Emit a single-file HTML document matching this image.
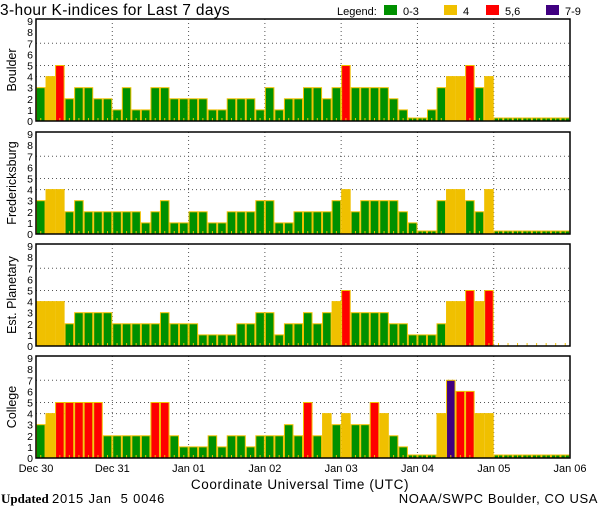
<!DOCTYPE html>
<html><head><meta charset="utf-8"><style>
html,body{margin:0;padding:0;background:#fff;}
svg{display:block;font-family:"Liberation Sans",sans-serif;}
</style></head><body>
<svg id="s" width="600" height="510" xmlns="http://www.w3.org/2000/svg">
<rect width="600" height="510" fill="#fff"/>
<text x="0" y="15" font-size="15.5" letter-spacing="0.35" fill="#000">3-hour K-indices for Last 7 days</text>
<text x="337" y="15" font-size="11" fill="#000">Legend:</text>
<rect x="384" y="5" width="13" height="10" fill="#009000"/>
<text x="403" y="15" font-size="11">0-3</text>
<rect x="444" y="5" width="13" height="10" fill="#f0c000"/>
<text x="463" y="15" font-size="11">4</text>
<rect x="486" y="5" width="13" height="10" fill="#ff0000"/>
<text x="505" y="15" font-size="11">5,6</text>
<rect x="546" y="5" width="13" height="10" fill="#400080"/>
<text x="565" y="15" font-size="11">7-9</text>
<g id="panels"></g>
<g font-size="12.5" transform="rotate(-90)">
<text x="-70" y="16" text-anchor="middle">Boulder</text>
<text x="-183" y="16" text-anchor="middle">Fredericksburg</text>
<text x="-295" y="16" text-anchor="middle">Est. Planetary</text>
<text x="-407" y="16" text-anchor="middle">College</text>
</g>
<g font-size="11" text-anchor="middle">
<text x="36" y="472">Dec 30</text>
<text x="112.3" y="472">Dec 31</text>
<text x="188.6" y="472">Jan 01</text>
<text x="264.9" y="472">Jan 02</text>
<text x="341.2" y="472">Jan 03</text>
<text x="417.5" y="472">Jan 04</text>
<text x="493.8" y="472">Jan 05</text>
<text x="570" y="472">Jan 06</text>
</g>
<text x="300" y="489" font-size="13.5" letter-spacing="0.6" text-anchor="middle">Coordinate Universal Time (UTC)</text>
<text x="1" y="503" font-size="13" font-family="Liberation Serif" font-weight="bold" xml:space="preserve">Updated <tspan font-family="Liberation Sans" font-weight="normal" letter-spacing="0.8">2015 Jan  5 0046</tspan></text>
<text x="598" y="503" font-size="13" letter-spacing="0.6" text-anchor="end">NOAA/SWPC Boulder, CO USA</text>
</svg>
<script>
var Z=[0,0,0,0,0,0,0,0];
var data=[
[3,4,5,2,3,3,2,2, 1,3,1,1,3,3,2,2, 2,2,1,1,2,2,2,1, 3,1,2,2,3,3,2,3, 5,3,3,3,3,2,1,0, 0,1,3,4,4,5,3,4].concat(Z),
[3,4,4,2,3,2,2,2, 2,2,2,1,2,3,1,1, 2,2,1,1,2,2,2,3, 3,1,1,2,2,2,2,3, 4,2,3,3,3,3,2,1, 0,0,3,4,4,3,2,4].concat(Z),
[4,4,4,2,3,3,3,3, 2,2,2,2,2,3,2,2, 2,1,1,1,1,2,2,3, 3,1,2,2,3,2,3,4, 5,3,3,3,3,2,2,1, 1,1,2,4,4,5,4,5],
[3,4,5,5,5,5,5,2, 2,2,2,2,5,5,2,1, 1,1,2,1,2,2,1,2, 2,2,3,2,5,2,4,3, 4,3,3,5,4,2,1,0, 0,0,4,7,6,6,4,4].concat(Z)
];
var tops=[19,132,244,356];
var h='';var bw=(570-36)/56;var u=11.1;
function col(v){return v<=3?'#009000':v==4?'#f0c000':v<=6?'#ff0000':'#400080';}
for(var p=0;p<4;p++){
 var T=tops[p],B=T+102;
 [4,5,7].forEach(function(v){var y=B-v*u;h+='<line x1="36" x2="570" y1="'+y+'" y2="'+y+'" stroke="#555" stroke-dasharray="1,3"/>';});
 for(var d=1;d<7;d++){var x=36+d*76.29;h+='<line x1="'+x+'" x2="'+x+'" y1="'+T+'" y2="'+B+'" stroke="#555" stroke-dasharray="1,3"/>';}
 var dd=data[p];
 for(var i=0;i<dd.length;i++){var v=dd[i];var x=36+i*bw;var hh=v==0?3:v*u;
  h+='<rect x="'+(x+0.5)+'" y="'+(B-hh)+'" width="'+(bw-1)+'" height="'+hh+'" fill="'+col(v)+'" stroke="#f0c000" stroke-width="1"/>';}
 for(var i=0;i<56;i++){var x=36+i*bw+bw/2;h+='<line x1="'+x+'" x2="'+x+'" y1="'+(B-3)+'" y2="'+B+'" stroke="#f0c000"/>';}
 h+='<rect x="36" y="'+T+'" width="534" height="'+(B-T)+'" fill="none" stroke="#000" stroke-width="1.5"/>';
 for(var v=0;v<=9;v++){h+='<text x="33" y="'+(B-v*u+4)+'" font-size="10.5" text-anchor="end">'+v+'</text>';}
}
document.getElementById('panels').innerHTML=h;
</script>
</body></html>
